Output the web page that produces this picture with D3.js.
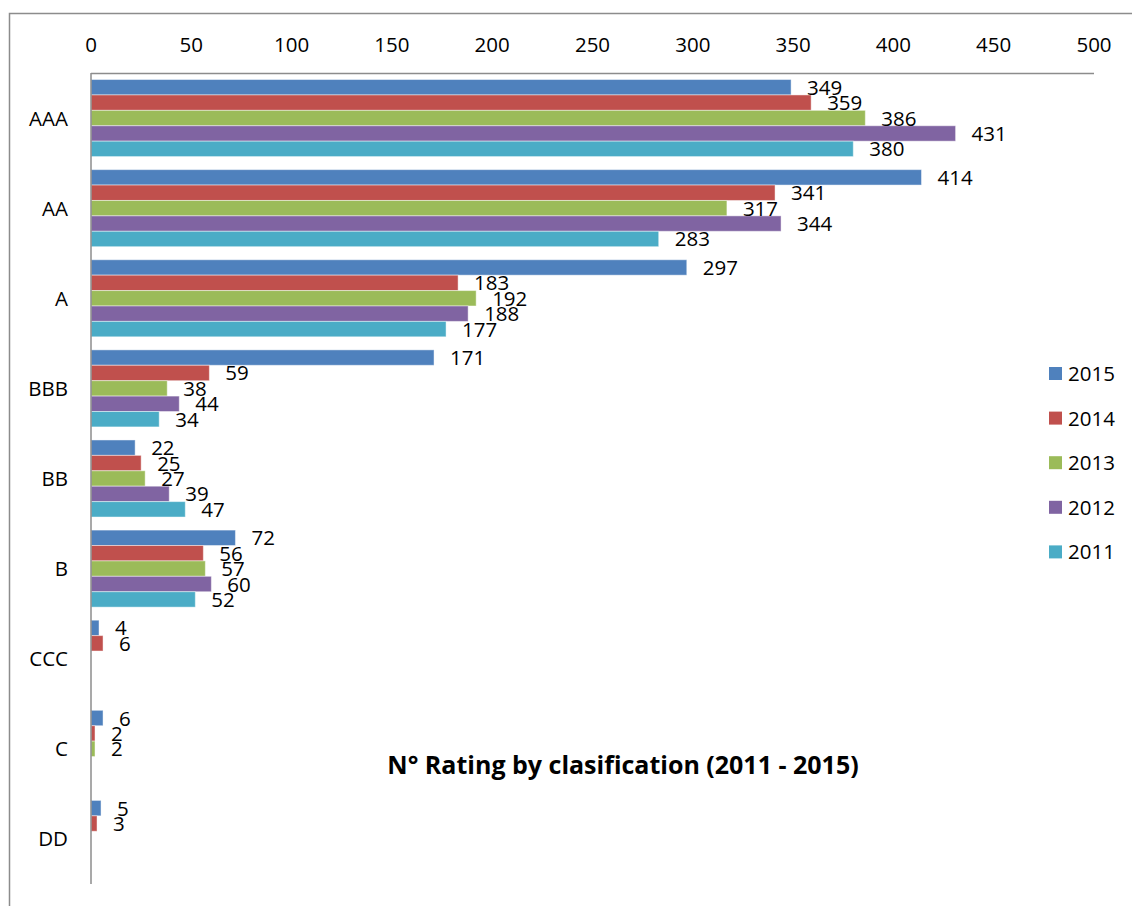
<!DOCTYPE html>
<html>
<head>
<meta charset="utf-8">
<script src="https://cdn.jsdelivr.net/npm/d3@7"></script>
<style>
  html, body { margin: 0; padding: 0; background: #fff; }
  svg { display: block; font-family: "Open Sans", "Liberation Sans", sans-serif; }
</style>
</head>
<body>
<svg id="chart" width="1132" height="906"></svg>
<script>
// chart data
const categories = ['AAA', 'AA', 'A', 'BBB', 'BB', 'B', 'CCC', 'C', 'DD'];
const years = ['2015', '2014', '2013', '2012', '2011'];
const values2015 = [349, 414, 297, 171, 22, 72, 4, 6, 5];
const values2014 = [359, 341, 183, 59, 25, 56, 6, 2, 3];
const values2013 = [386, 317, 192, 38, 27, 57, null, 2, null];
const values2012 = [431, 344, 188, 44, 39, 60, null, null, null];
const values2011 = [380, 283, 177, 34, 47, 52, null, null, null];
const xTicks = [0, 50, 100, 150, 200, 250, 300, 350, 400, 450, 500];
const titleText = 'N° Rating by clasification (2011 - 2015)';

const seriesValues = [values2015, values2014, values2013, values2012, values2011];
const colors = ['#4F81BD', '#C0504D', '#9BBB59', '#8064A2', '#4BACC6'];

const svg = d3.select('#chart');
const plot = { left: 91, right: 1094, top: 73, bottom: 884 };
const fs = 20.5;

// outer frame (only top/left edges visible)
svg.append('path')
  .attr('d', 'M9.5,906 L9.5,13.5 L1132,13.5')
  .attr('fill', 'none')
  .attr('stroke', '#8c8c8c')
  .attr('stroke-width', 1.5);

const x = d3.scaleLinear().domain([0, 500]).range([plot.left, plot.right]);
const y = d3.scaleBand().domain(categories).range([plot.top, plot.bottom]).paddingInner(0.145).paddingOuter(0.0725);
const ySub = d3.scaleBand().domain(years).range([0, y.bandwidth()]);
const yCat = d3.scaleBand().domain(categories).range([plot.top, plot.bottom]);

// top tick labels
svg.append('g')
  .selectAll('text')
  .data(xTicks)
  .join('text')
    .attr('x', d => x(d))
    .attr('y', 52)
    .attr('text-anchor', 'middle')
    .attr('font-size', fs)
    .attr('fill', '#000')
    .text(d => d);

// bars
const rows = [];
categories.forEach((c, i) => {
  years.forEach((yr, s) => {
    const v = seriesValues[s][i];
    if (v != null) rows.push({ cat: c, year: yr, value: v, color: colors[s] });
  });
});

svg.append('g')
  .selectAll('rect')
  .data(rows)
  .join('rect')
    .attr('x', x(0))
    .attr('y', d => y(d.cat) + ySub(d.year))
    .attr('width', d => x(d.value) - x(0))
    .attr('height', ySub.bandwidth())
    .attr('fill', d => d.color)
    .attr('stroke', 'rgba(255,255,255,0.45)')
    .attr('stroke-width', 1);

// axis lines
svg.append('line')
  .attr('x1', plot.left).attr('x2', plot.right)
  .attr('y1', plot.top + 0.5).attr('y2', plot.top + 0.5)
  .attr('stroke', '#8c8c8c').attr('stroke-width', 1.5);
svg.append('line')
  .attr('x1', plot.left).attr('x2', plot.left)
  .attr('y1', plot.top).attr('y2', plot.bottom)
  .attr('stroke', '#8c8c8c').attr('stroke-width', 1.5);

// value labels
svg.append('g')
  .selectAll('text')
  .data(rows)
  .join('text')
    .attr('x', d => x(d.value) + 16)
    .attr('y', d => y(d.cat) + ySub(d.year) + ySub.bandwidth() / 2 + 7.5)
    .attr('font-size', fs)
    .attr('fill', '#000')
    .text(d => d.value);

// category labels
svg.append('g')
  .selectAll('text')
  .data(categories)
  .join('text')
    .attr('x', 68)
    .attr('y', d => yCat(d) + yCat.bandwidth() / 2 + 7.5)
    .attr('text-anchor', 'end')
    .attr('font-size', fs)
    .attr('fill', '#000')
    .text(d => d);

// legend
const legend = svg.append('g')
  .selectAll('g')
  .data(years)
  .join('g')
    .attr('transform', (d, i) => `translate(1049, ${367 + i * 44.6})`);
legend.append('rect')
  .attr('width', 13).attr('height', 13)
  .attr('fill', (d, i) => colors[i]);
legend.append('text')
  .attr('x', 19).attr('y', 14)
  .attr('font-size', fs)
  .attr('fill', '#000')
  .text(d => d);

// title
svg.append('text')
  .attr('x', 623)
  .attr('y', 774)
  .attr('text-anchor', 'middle')
  .attr('font-size', 25)
  .attr('font-weight', 'bold')
  .attr('fill', '#000')
  .text(titleText);
</script>
</body>
</html>
